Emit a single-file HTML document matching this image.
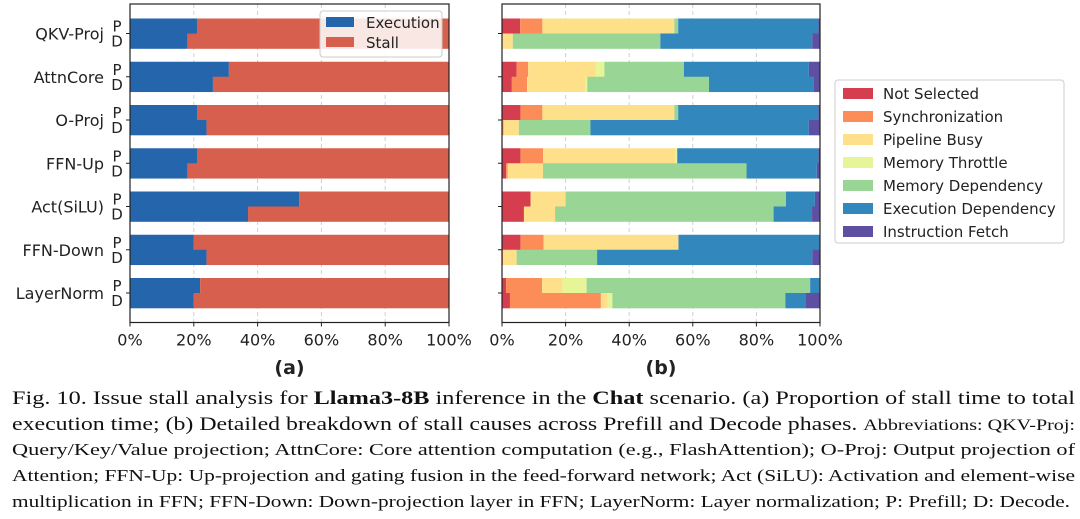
<!DOCTYPE html>
<html><head><meta charset="utf-8"><style>
html,body{margin:0;padding:0;background:#fff;width:1080px;height:519px;overflow:hidden}
svg text{font-family:"DejaVu Sans","Liberation Sans",sans-serif}
.cap{font-family:"Liberation Serif",serif !important;fill:#111}
</style></head><body>
<svg id="chart" width="1080" height="519" xmlns="http://www.w3.org/2000/svg">
<g id="pa"></g>
<g id="pb"></g>
<g>
<text class="cap" x="12" y="404" font-size="19" textLength="1063" lengthAdjust="spacingAndGlyphs">Fig. 10.  Issue stall analysis for <tspan font-weight="bold">Llama3-8B</tspan> inference in the <tspan font-weight="bold">Chat</tspan> scenario. (a) Proportion of stall time to total</text>
<text class="cap" x="12" y="430" font-size="19" textLength="1063" lengthAdjust="spacingAndGlyphs">execution time; (b) Detailed breakdown of stall causes across Prefill and Decode phases. <tspan font-size="16">Abbreviations: QKV-Proj:</tspan></text>
<text class="cap" x="12" y="455" font-size="16.5" textLength="1063" lengthAdjust="spacingAndGlyphs">Query/Key/Value projection; AttnCore: Core attention computation (e.g., FlashAttention); O-Proj: Output projection of</text>
<text class="cap" x="12" y="481" font-size="16.5" textLength="1063" lengthAdjust="spacingAndGlyphs">Attention; FFN-Up: Up-projection and gating fusion in the feed-forward network; Act (SiLU): Activation and element-wise</text>
<text class="cap" x="12" y="507" font-size="16.5" textLength="1058" lengthAdjust="spacingAndGlyphs">multiplication in FFN; FFN-Down: Down-projection layer in FFN; LayerNorm: Layer normalization; P: Prefill; D: Decode.</text>
</g>
</svg>
<script>
const categories=["QKV-Proj","AttnCore","O-Proj","FFN-Up","Act(SiLU)","FFN-Down","LayerNorm"];
const phases=["P","D"];
const execP=[21,31,21,21,53,20,22];
const execD=[18,26,24,18,37,24,20];
const causes=["Not Selected","Synchronization","Pipeline Busy","Memory Throttle","Memory Dependency","Execution Dependency","Instruction Fetch"];
const causeColors=["#d53e4f","#fc8d59","#fee08b","#e6f598","#99d594","#3288bd","#5e4fa2"];
const notSelP=[5.7,4.6,5.8,5.8,9.0,5.8,1.3];
const syncP=[7.0,3.6,6.9,7.1,0,7.3,11.3];
const pipeP=[41.5,21.2,41.5,41.5,11.0,42.4,6.4];
const throtP=[0,2.8,0,0.7,0,0,7.6];
const memP=[1.2,25.0,1.2,0,69.3,0,70.3];
const execDepP=[44.1,39.3,44.1,44.4,9.1,44.5,3.1];
const fetchP=[0.5,3.5,0.5,0.5,1.6,0,0];
const notSelD=[0,3.1,0,1.3,6.9,0,2.5];
const syncD=[0,4.8,0.5,0.5,0,0.3,28.6];
const pipeD=[3.4,18.2,4.8,11.1,9.8,4.3,2.1];
const throtD=[0,0.7,0,0,0,0,1.5];
const memD=[46.4,38.3,22.5,64.0,68.7,25.3,54.4];
const execDepD=[47.8,33.0,68.7,22.1,12.1,67.7,6.5];
const fetchD=[2.4,1.9,3.5,1.0,2.5,2.4,4.4];
const xTicks=[0,20,40,60,80,100];
const xTickLabels=["0%","20%","40%","60%","80%","100%"];

const NS="http://www.w3.org/2000/svg";
function mk(parent,tag,attrs,text){const e=document.createElementNS(NS,tag);for(const k in attrs)e.setAttribute(k,attrs[k]);if(text!==undefined)e.textContent=text;parent.appendChild(e);return e;}
const axTop=4,axBottom=322.5,firstY=18.5,pitch=43.25,bh=15;
function yP(i){return firstY+i*pitch;}
function axes(g,x0,x1){
  const sx=v=>x0+(x1-x0)*v/100;
  for(const t of xTicks.slice(1,-1)){const l=mk(g,'line',{x1:sx(t),x2:sx(t),y1:axTop,y2:axBottom,stroke:'#d0d0d0','stroke-dasharray':'4,3','stroke-width':1});
  
  }
  return sx;
}
function frame(g,x0,x1,label,labels){
  const sx=v=>x0+(x1-x0)*v/100;
  const r=mk(g,'rect',{x:x0,y:axTop,width:x1-x0,height:axBottom-axTop,fill:'none',stroke:'#222','stroke-width':1.2});
  
  
  xTicks.forEach((t,i)=>{mk(g,'line',{x1:sx(t),x2:sx(t),y1:axBottom,y2:axBottom+4,stroke:'#222'});
    const tx=mk(g,'text',{x:sx(t),y:axBottom+23,'font-size':16,'text-anchor':'middle',fill:'#222'},xTickLabels[i]);
    
    });
  categories.forEach((c,i)=>{const yc=yP(i)+bh;
    mk(g,'line',{x1:x0-4,x2:x0,y1:yc,y2:yc,stroke:'#222'});
    if(labels){
      const t=mk(g,'text',{x:104,y:yc+6,'font-size':16,'text-anchor':'end',fill:'#222'},c);
      
      
      mk(g,'text',{x:117,y:yc-2,'font-size':15,'text-anchor':'middle',fill:'#222'},phases[0]);
      mk(g,'text',{x:117,y:yc+13,'font-size':15,'text-anchor':'middle',fill:'#222'},phases[1]);
    }});
  const tl=mk(g,'text',{x:(x0+x1)/2,y:374,'font-size':19,'font-weight':'bold','text-anchor':'middle',fill:'#222'},label);
  
  
}
const pa=document.getElementById('pa');
const ax0=130,ax1=449;
const sxa=axes(pa,ax0,ax1);
categories.forEach((c,i)=>{
  [[execP[i],0],[execD[i],1]].forEach(([v,k])=>{
    const y=yP(i)+k*bh;
    const e=mk(pa,'rect',{x:sxa(0),y:y,width:sxa(v)-sxa(0),height:bh+0.3,fill:'#2565ab'});
    
    
    const s=mk(pa,'rect',{x:sxa(v),y:y,width:sxa(100)-sxa(v),height:bh+0.3,fill:'#d6604d'});
    
    
  });
});
frame(pa,ax0,ax1,'(a)',true);
const lga=mk(pa,'g',{});


mk(lga,'rect',{x:320,y:11,width:122,height:46,rx:3,fill:'#fff','fill-opacity':0.85,stroke:'#ccc'});
[['Execution','#2565ab'],['Stall','#d6604d']].forEach(([n,c],i)=>{
  mk(lga,'rect',{x:326,y:17+i*20,width:28,height:10,fill:c});
  const t=mk(lga,'text',{x:366,y:28+i*20,'font-size':15,fill:'#222'},n);
  
  
});
const pb=document.getElementById('pb');
const bx0=502,bx1=820;
const sxb=axes(pb,bx0,bx1);
const seriesP=[notSelP,syncP,pipeP,throtP,memP,execDepP,fetchP];
const seriesD=[notSelD,syncD,pipeD,throtD,memD,execDepD,fetchD];
categories.forEach((c,i)=>{
  [seriesP,seriesD].forEach((S,k)=>{
    const y=yP(i)+k*bh;let acc=0;
    S.forEach((arr,j)=>{const v=arr[i];if(v<=0)return;
      const r=mk(pb,'rect',{x:sxb(acc),y:y,width:sxb(acc+v)-sxb(acc),height:bh+0.3,fill:causeColors[j]});
      
      
      acc+=v;});
  });
});
frame(pb,bx0,bx1,'(b)',false);
const lgb=mk(pb,'g',{});


mk(lgb,'rect',{x:835,y:80,width:229,height:163,rx:3,fill:'#fff',stroke:'#ccc'});
causes.forEach((n,i)=>{
  mk(lgb,'rect',{x:843,y:88+i*23,width:30,height:11,fill:causeColors[i]});
  const t=mk(lgb,'text',{x:883,y:99+i*23,'font-size':15,fill:'#222'},n);
  
  
});
</script>
</body></html>
